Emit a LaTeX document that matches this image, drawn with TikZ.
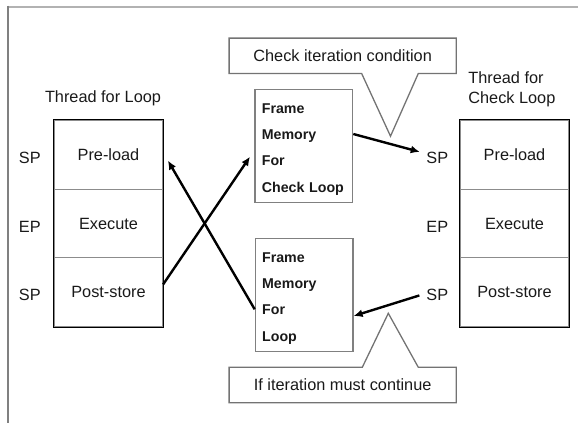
\documentclass[tikz,border=0pt]{standalone}
\usepackage{fontspec}
\setmainfont{Liberation Sans}
\usetikzlibrary{matrix, calc, arrows.meta, positioning}

\begin{document}
\begin{tikzpicture}[x=1pt, y=-1pt]
	\tikzset{
		portlabel/.style = {font={\fontsize{16.3}{20}\selectfont}, inner sep=0pt, text=black!90},
		title/.style = {font={\fontsize{16.3}{20}\selectfont}, inner sep=0pt, align=left, text=black!90},
		arrow/.style = {-{Latex[length=9pt,width=8pt]}, line width=2.4pt},
		matstyle/.style = {matrix of nodes, draw, line width=2.5pt, inner sep=0pt, row sep=-0.8pt,
			nodes={draw=black!45, line width=0.8pt, minimum width=108.4pt, minimum height=68.7pt,
				font={\fontsize{16.3}{20}\selectfont}, text=black!90, anchor=center}},
		framebox/.style = {draw=black!50, line width=1.2pt, text width=84pt, inner xsep=6.85pt, inner ysep=0pt,
			minimum height=113pt, align=left, font={\fontsize{14.2}{26.3}\selectfont\bfseries}, text=black!90},
		bubble/.style = {minimum width=226.7pt, minimum height=35pt, inner sep=0pt,
			font={\fontsize{16.3}{20}\selectfont}, text=black!90},
		callout/.style = {draw=black!55, line width=1.3pt, line join=miter},
	}

	\useasboundingbox (0,0) rectangle (578,423);

	% page frame
	\draw[black!30, line width=2pt] (8.3,6.7) -- (578,6.7);
	\draw[black!50, line width=2pt] (8.3,5.7) -- (8.3,423);

	% threads
	\matrix[matstyle] (lmat) at (108.5,223.5) {
		Pre-load\\
		Execute\\
		Post-store\\
	};
	\matrix[matstyle] (rmat) at (514.5,223.5) {
		Pre-load\\
		Execute\\
		Post-store\\
	};

	\foreach \x/\l in {1/SP, 2/EP, 3/SP}
		{
			\node[portlabel, left=13pt of lmat-\x-1.west, yshift=-3pt] (lp\x) {\l};
			\node[portlabel, left=11.5pt of rmat-\x-1.west, yshift=-3pt] (rp\x) {\l};
		}

	\node[title, above=13pt of lmat.north, xshift=-5.5pt] (ltitle) {Thread for Loop};
	\node[title, above right=12pt and 9.5pt of rmat.north west] (rtitle) {Thread for\\Check Loop};

	% frame memories
	\node[framebox] (fmc) at (303.85,145.8) {\rule{0pt}{17pt}Frame\\Memory\\For\\Check Loop};
	\node[framebox] (fml) at (304.15,294.7) {\rule{0pt}{17pt}Frame\\Memory\\For\\Loop};

	% callouts
	\node[bubble] (cond) at (342.65,55.8) {Check iteration condition};
	\node[bubble] (cont) at (342.65,385) {If iteration must continue};

	\draw[callout] (cond.south west) -- (cond.north west) -- (cond.north east) -- (cond.south east)
		-- ($(cond.south)+(75.65,0)$) -- ($(cond.south)+(47.85,62.7)$) -- ($(cond.south)+(19,0)$) -- cycle;
	\draw[callout] (cont.north west) -- (cont.south west) -- (cont.south east) -- (cont.north east)
		-- ($(cont.north)+(75.65,0)$) -- ($(cont.north)+(45.65,-54)$) -- ($(cont.north)+(19.65,0)$) -- cycle;

	% transfers
	\draw[arrow] ($(lmat-3-1.east)+(0,-7.75)$) -- ($(fmc.west)+(-4.4,10.9)$);
	\draw[arrow] ($(fml.west)+(0,14.6)$) -- ($(lmat-1-1.east)+(4.8,5.75)$);
	\draw[arrow] ($(fmc.east)+(0,-11.8)$) -- ($(rp1.west)+(-6.5,-5.9)$);
	\draw[arrow] ($(rp3.west)+(-6.9,0.25)$) -- ($(fml.east)+(0,21.3)$);

\end{tikzpicture}
\end{document}
